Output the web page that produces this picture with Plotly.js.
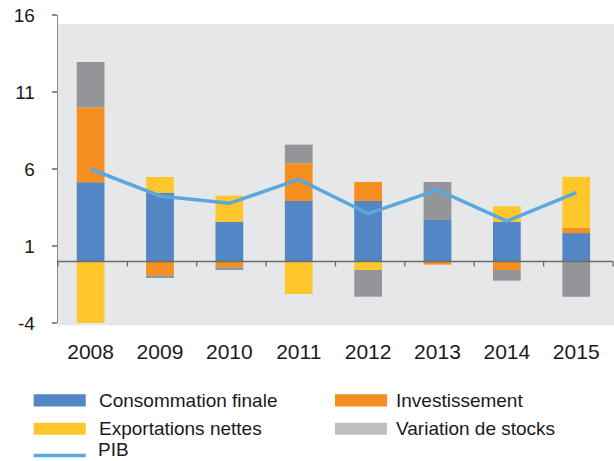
<!DOCTYPE html>
<html>
<head>
<meta charset="utf-8">
<script src="https://cdn.plot.ly/plotly-3.0.1.min.js"></script>
<style>html,body{margin:0;padding:0;background:#fff;}#chart{width:614px;height:461px;}</style>
</head>
<body>
<div id="chart"></div>
<script>
// Data
var years = ['2008','2009','2010','2011','2012','2013','2014','2015'];
var consommation = [5.14, 4.44, 2.56, 3.92, 3.92, 2.69, 2.56, 1.84];
var investissement = [4.85, -0.90, -0.38, 2.45, 1.24, -0.21, -0.56, 0.35];
var exportations = [-4.0, 1.04, 1.71, -2.12, -0.56, 0, 1.02, 3.31];
var stocks = [2.96, -0.18, -0.18, 1.21, -1.73, 2.47, -0.69, -2.29];
var pib = [6.0, 4.25, 3.77, 5.33, 3.1, 4.64, 2.62, 4.47];
var yTicks = [-4, 1, 6, 11, 16];

var names = ['Consommation finale', 'Investissement', 'Exportations nettes', 'Variation de stocks', 'PIB'];
var colors = ['#5286C5', '#F58F1F', '#FFC72C', '#949598', '#5AA8DE'];
var legendSwatch = ['#5286C5', '#F58F1F', '#FFC72C', '#BCBEC0', '#5AA8DE'];

var FONT = 'Liberation Sans, Arial, Helvetica, sans-serif';
var W = 614, H = 461;
var L = 58.3, R = 612.7, T = 15, B = 322.7;
function px(x){ return (x - L) / (R - L); }
function py(y){ return (B - y) / (B - T); }

var series = [consommation, investissement, exportations, stocks];
var traces = series.map(function(s, i){
  return {
    type: 'bar', x: years, y: s, name: names[i],
    marker: {color: colors[i], line: {width: 0}},
    hoverinfo: 'y', showlegend: false
  };
});
traces.push({
  type: 'scatter', mode: 'lines', x: years, y: pib, name: names[4],
  line: {color: colors[4], width: 3.5}, showlegend: false
});

var shapes = [{
  type: 'rect', xref: 'paper', yref: 'paper', x0: 0, x1: px(614), y0: py(325), y1: py(24),
  fillcolor: '#E6E7E8', line: {width: 0}, layer: 'below'
}];
// zero line with category-boundary ticks
shapes.push({type: 'line', xref: 'paper', yref: 'y', x0: 0, x1: 1, y0: 0, y1: 0,
  line: {color: '#6b6b6b', width: 1.5}});
for (var i = 0; i <= years.length; i++) {
  shapes.push({type: 'line', xref: 'paper', yref: 'y', x0: i / years.length, x1: i / years.length,
    y0: 0, y1: -0.33, line: {color: '#6b6b6b', width: 1.3}});
}
var annotations = [];
// legend layout (2 columns)
var legendPos = [
  {x: 34, tx: 97.3, y: 400},
  {x: 335, tx: 394.3, y: 400},
  {x: 34, tx: 97.3, y: 428.3},
  {x: 335, tx: 394.3, y: 428.3},
  {x: 34, tx: 97.3, y: 455, bottom: true}
];
names.forEach(function(n, i){
  var p = legendPos[i];
  if (i < 4) {
    shapes.push({type: 'rect', xref: 'paper', yref: 'paper',
      x0: px(p.x), x1: px(p.x + 52), y0: py(p.y + 6), y1: py(p.y - 6),
      fillcolor: legendSwatch[i], line: {width: 0}});
  } else {
    shapes.push({type: 'line', xref: 'paper', yref: 'paper',
      x0: px(p.x), x1: px(p.x + 52), y0: py(p.y), y1: py(p.y),
      line: {color: legendSwatch[i], width: 3.5}});
  }
  annotations.push({xref: 'paper', yref: 'paper', x: px(p.tx), y: p.bottom ? py(461) : py(p.y),
    xanchor: 'left', yanchor: p.bottom ? 'bottom' : 'middle', showarrow: false, text: n,
    borderpad: p.bottom ? 0 : 1,
    font: {family: FONT, size: 19, color: '#1a1a1a'}});
});

var layout = {
  width: W, height: H,
  margin: {l: L, r: W - R, t: T, b: H - B, pad: 0},
  paper_bgcolor: '#ffffff', plot_bgcolor: 'rgba(0,0,0,0)',
  barmode: 'relative', bargap: 0.6,
  font: {family: FONT, color: '#1a1a1a'},
  showlegend: false,
  xaxis: {
    type: 'category', range: [-0.47, 7.53], showline: false, showgrid: false, zeroline: false,
    ticks: '', tickfont: {family: FONT, size: 21, color: '#1a1a1a'}, ticklabelstandoff: 14,
    fixedrange: true
  },
  yaxis: {
    range: [-4, 16], tickvals: yTicks, ticktext: yTicks.map(String),
    showgrid: false, zeroline: false, showline: true, linecolor: '#8c8c8c', linewidth: 1.3,
    ticks: 'outside', ticklen: 5, tickwidth: 1.3, tickcolor: '#8c8c8c',
    tickfont: {family: FONT, size: 19, color: '#1a1a1a'}, ticklabelstandoff: 13,
    fixedrange: true
  },
  shapes: shapes,
  annotations: annotations
};

Plotly.newPlot('chart', traces, layout, {displayModeBar: false, staticPlot: true});
</script>
</body>
</html>
